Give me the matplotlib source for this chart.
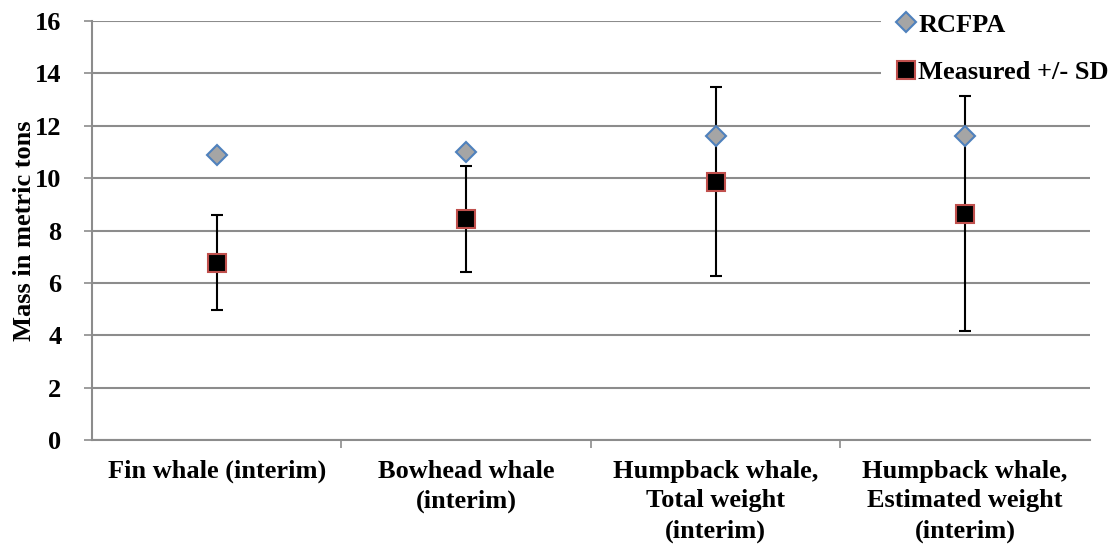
import matplotlib
matplotlib.use("Agg")
import matplotlib.pyplot as plt
import numpy as np

categories = ["Fin whale (interim)", "Bowhead whale\n(interim)",
              "Humpback whale,\nTotal weight\n(interim)",
              "Humpback whale,\nEstimated weight\n(interim)"]
rcfpa = [10.9, 11.0, 11.6, 11.6]
measured = [6.77, 8.44, 9.85, 8.63]
sd_upper = [1.82, 2.02, 3.63, 4.50]
sd_lower = [1.82, 2.03, 3.60, 4.48]
yticks = [0, 2, 4, 6, 8, 10, 12, 14, 16]

plt.rcParams['font.family'] = ['Liberation Serif', 'DejaVu Serif']
plt.rcParams['font.weight'] = 'bold'

fig = plt.figure(figsize=(11.12, 5.44), dpi=100)
ax = fig.add_axes([0.0827, 0.191, 0.8973, 0.7704])

x = np.arange(len(categories))
ax.errorbar(x, measured, yerr=[sd_lower, sd_upper], fmt='none', ecolor='black',
            elinewidth=1.5, capsize=4.5, capthick=1.5, zorder=3)
ax.plot(x, rcfpa, linestyle='none', marker='D', markersize=10.5,
        markerfacecolor='#A5A5A5', markeredgecolor='#4F81BD', markeredgewidth=1.5,
        label='RCFPA', zorder=4)
ax.plot(x, measured, linestyle='none', marker='s', markersize=13.5,
        markerfacecolor='black', markeredgecolor='#C0504D', markeredgewidth=1.5,
        label='Measured +/- SD', zorder=5)

ax.set_xlim(-0.5, len(categories) - 0.5)
ax.set_ylim(0, 16)
ax.set_yticks(yticks)
ax.set_yticklabels([str(v) for v in yticks], fontsize=19, fontweight='bold')
ax.yaxis.grid(True, color='#8C8C8C', linewidth=1.5)
ax.set_axisbelow(True)

ax.set_xticks(x)
ax.set_xticklabels(categories, fontsize=19, fontweight='bold', linespacing=1.38)
ax.tick_params(axis='x', length=0, pad=14)
ax.set_xticks(np.arange(-0.5, len(categories) + 0.5, 1.0)[1:-1], minor=True)
ax.tick_params(axis='x', which='minor', length=6, color='#8C8C8C', width=1.2)
ax.tick_params(axis='y', length=6, color='#8C8C8C', width=1.2, pad=16)

for s in ['top', 'right']:
    ax.spines[s].set_visible(False)
for s in ['left', 'bottom']:
    ax.spines[s].set_color('#8C8C8C')
    ax.spines[s].set_linewidth(1.5)

ax.set_ylabel('Mass in metric tons', fontsize=19, fontweight='bold', labelpad=-1)

leg = ax.legend(loc='upper left', bbox_to_anchor=(0.7925, 1.0),
                bbox_transform=fig.transFigure, frameon=True,
                fontsize=19, labelspacing=0.9, handletextpad=0.05,
                handlelength=0.85, borderaxespad=0, borderpad=0.5,
                fancybox=False)
leg.get_frame().set_facecolor('white')
leg.get_frame().set_edgecolor('none')
leg.get_frame().set_alpha(1.0)
leg.set_zorder(2.5)
for t in leg.get_texts():
    t.set_fontweight('bold')

fig.savefig('out.png', dpi=100)
